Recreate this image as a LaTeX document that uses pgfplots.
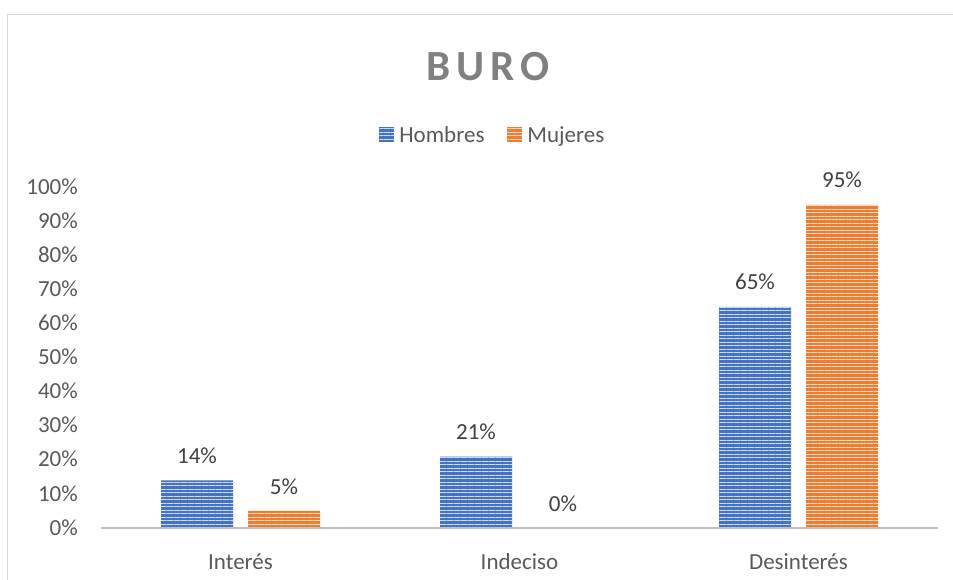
\documentclass[border=0pt]{standalone}
\usepackage{fontspec}
\setmainfont{Carlito}
\usepackage{pgfplots}
\pgfplotsset{compat=1.18}
\usetikzlibrary{patterns.meta}

\definecolor{hombres}{HTML}{4472C4}
\definecolor{mujeres}{HTML}{ED7D31}
\definecolor{txt}{HTML}{595959}
\definecolor{lbl}{HTML}{404040}
\definecolor{ttl}{HTML}{808080}
\definecolor{frame}{HTML}{D9D9D9}
\definecolor{axln}{HTML}{BFBFBF}

\newcommand{\chartfont}{\fontsize{23bp}{27bp}\selectfont}

\begin{document}
\begin{tikzpicture}
\useasboundingbox (0,0) rectangle (953bp,580bp);
\draw[frame, line width=1bp] (7bp,-30bp) rectangle (990bp,565bp);

\node[ttl, font={\fontsize{43bp}{48bp}\selectfont\bfseries\addfontfeature{LetterSpace=14}}]
  at (488bp,513bp) {BURO};

\begin{axis}[
  at={(101bp,52bp)}, anchor=south west,
  scale only axis, width=837bp, height=340bp,
  ybar=15bp, bar width=72bp,
  xmin=-0.5, xmax=2.5, ymin=0, ymax=100,
  xtick=data, xticklabels={Interés, Indeciso, Desinterés},
  ytick={0,10,...,100},
  yticklabel={\pgfmathprintnumber{\tick}\%},
  /pgf/number format/assume math mode=true,
  axis on top,
  axis x line*=bottom, axis y line*=left,
  x axis line style={-, draw=axln, line width=2.2bp},
  y axis line style={draw=none},
  major tick style={draw=none},
  ticklabel style={font=\chartfont, text=txt, inner sep=0pt},
  yticklabel style={anchor=base east, xshift=-23bp, yshift=-7bp},
  xticklabel style={anchor=base, yshift=-37bp},
  clip=false,
  nodes near coords={\pgfmathprintnumber{\pgfplotspointmeta}\%},
  every node near coord/.append style={font=\chartfont, text=lbl,
    inner sep=0pt, anchor=base, yshift=17bp},
  legend style={at={(0.467,1.156)}, anchor=center, draw=none, fill=none,
    legend columns=-1, font=\chartfont, text=txt,
    nodes={inner sep=0pt},
    /tikz/every odd column/.style={column sep=5bp},
    /tikz/every even column/.style={column sep=23bp}},
  legend image code/.code={\path[#1, draw=none] (0bp,-7bp) rectangle (15bp,8bp);},
]
\addplot[fill=hombres, draw=none,
  postaction={pattern={Lines[angle=0, distance=3.5bp, line width=0.9bp]},
    pattern color=white!75!hombres}]
  coordinates {(0,14) (1,21) (2,65)};
\addplot[fill=mujeres, draw=none,
  postaction={pattern={Lines[angle=0, distance=3.5bp, line width=0.9bp]},
    pattern color=white!72!mujeres}]
  coordinates {(0,5) (1,0) (2,95)};
\legend{Hombres, Mujeres}
\end{axis}
\end{tikzpicture}
\end{document}
